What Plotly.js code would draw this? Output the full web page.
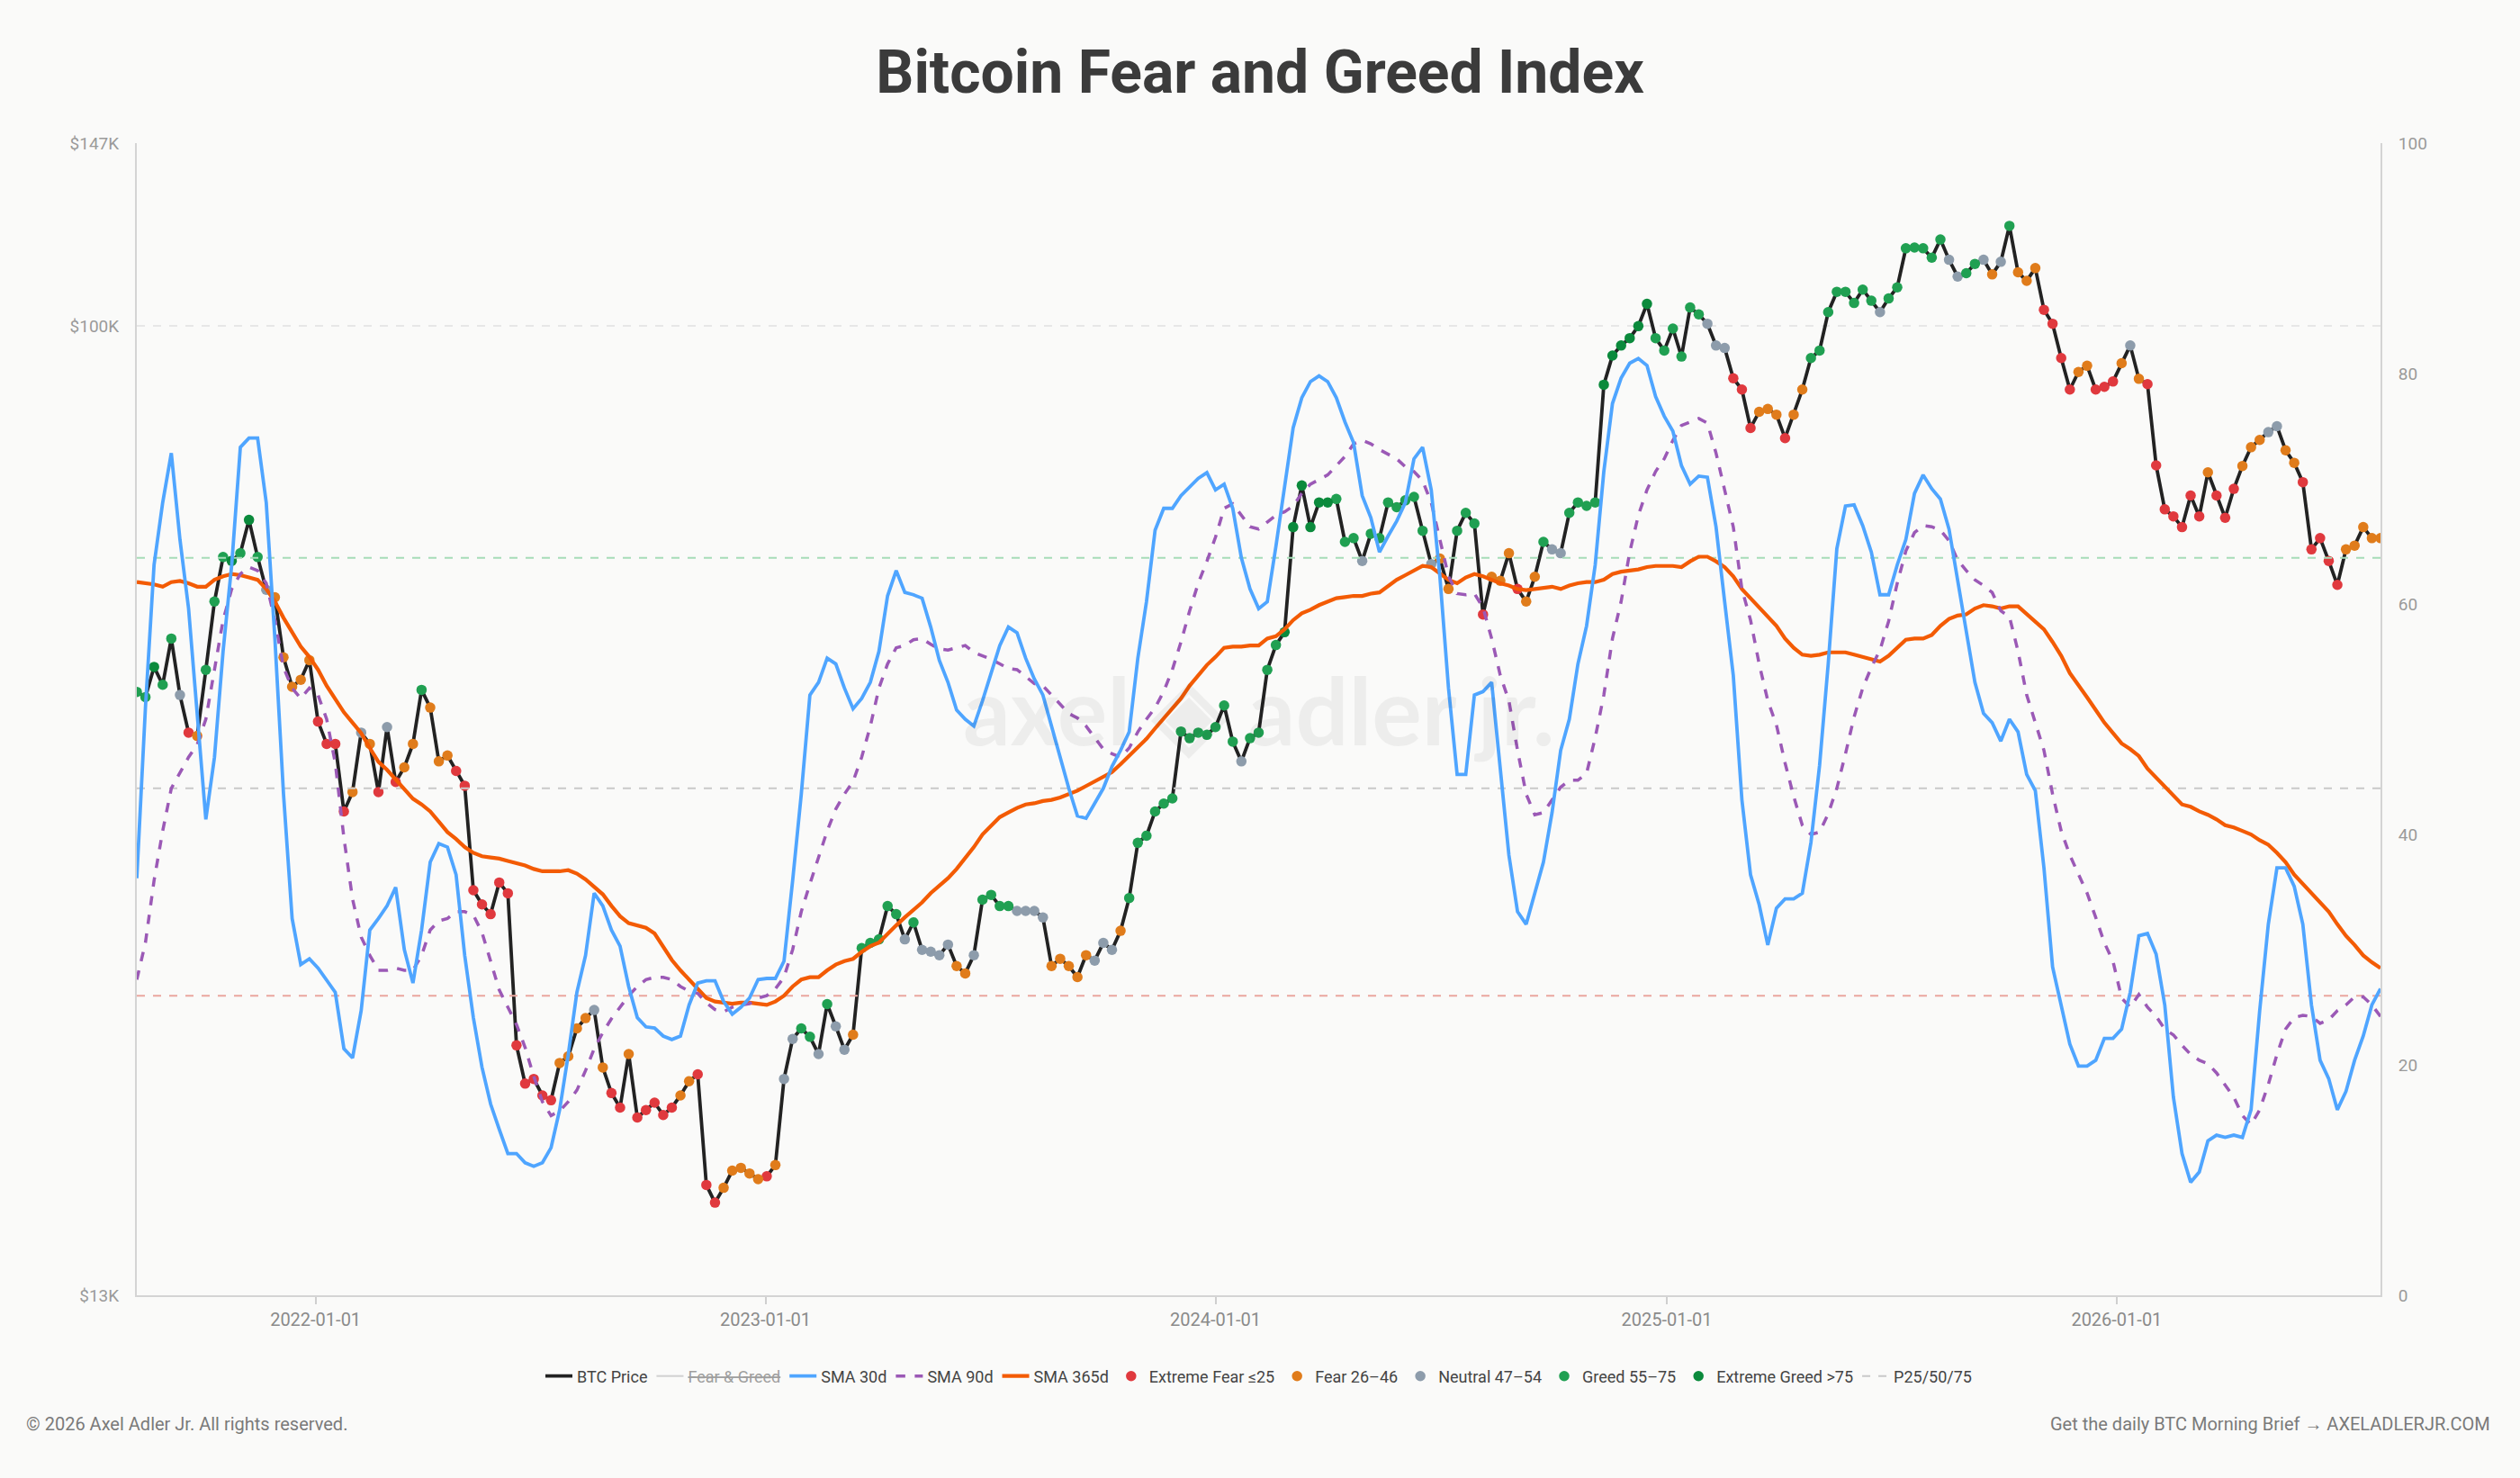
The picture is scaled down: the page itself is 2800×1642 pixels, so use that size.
<!DOCTYPE html>
<html><head><meta charset="utf-8">
<script src="https://cdn.plot.ly/plotly-3.0.1.min.js"></script>
<style>html,body{margin:0;padding:0;background:#fafaf9;} #chart{width:2800px;height:1642px;}</style>
</head><body><div id="chart"></div>
<script>
// ---- DATA (weekly samples starting 2021-08-09) ----
const startDate = '2021-08-09';
const stepDays = 7;

const btcPrice = [
 46300, 45800, 48800, 47000, 51800, 46000, 42500, 42200, 48500, 56000,
 61500, 61000, 62000, 66500, 61500, 57400, 56500, 49800, 46800, 47500,
 49500, 43500, 41500, 41500, 36000, 37500, 42500, 41500, 37500, 43000,
 38300, 39500, 41500, 46500, 44800, 40000, 40500, 39200, 38000, 30500,
 29600, 29000, 31000, 30300, 22000, 20300, 20500, 19800, 19600, 21200,
 21500, 22800, 23300, 23700, 21000, 19900, 19300, 21600, 18900, 19200,
 19500, 19000, 19300, 19800, 20400, 20700, 16400, 15800, 16300, 16900,
 17000, 16800, 16600, 16700, 17100, 20500, 22300, 22800, 22400, 21600,
 24000, 22900, 21800, 22500, 27000, 27300, 27500, 29500, 29000, 27500,
 28500, 26900, 26800, 26600, 27200, 26000, 25600, 26600, 29900, 30200,
 29500, 29500, 29200, 29200, 29200, 28800, 26000, 26400, 26000, 25400,
 26600, 26300, 27300, 26900, 28000, 30000, 33700, 34200, 36000, 36600,
 37000, 42600, 42000, 42500, 42300, 43000, 45000, 41700, 40000, 42000,
 42500, 48500, 51100, 52500, 65500, 71500, 65500, 69000, 69000, 69500,
 63500, 64000, 61000, 64600, 64000, 69000, 68300, 69300, 69800, 65000,
 60600, 61300, 57500, 65000, 67500, 66000, 54500, 59000, 58500, 62000,
 57500, 56000, 59000, 63500, 62500, 62000, 67500, 69000, 68500, 69000,
 88400, 94000, 96000, 97500, 100000, 104800, 97500, 95000, 99500, 93800,
 104000, 102500, 100500, 96000, 95500, 89600, 87500, 80700, 83500, 84000,
 83000, 79000, 83000, 87500, 93500, 95000, 103000, 107500, 107500, 105000,
 108000, 105500, 103000, 106000, 108500, 117800, 118000, 117800, 115500, 120000,
 115000, 111000, 111800, 114000, 115000, 111500, 114500, 123500, 112000, 110000,
 113000, 103500, 100500, 93500, 87500, 90800, 92000, 87500, 88000, 89000,
 92500, 96000, 89500, 88500, 74600, 68000, 67000, 65500, 70000, 67000,
 73500, 70000, 66800, 71000, 74500, 77500, 78700, 80000, 81000, 77000,
 75000, 72000, 62500, 64000, 61000, 58000, 62500, 63000, 65500, 64000,
 64000
];

const fearGreed = [
 72, 74, 76, 70, 74, 50, 24, 30, 60, 72,
 73, 78, 72, 77, 72, 52, 40, 32, 28, 35,
 40, 20, 15, 22, 12, 28, 48, 35, 22, 50,
 24, 30, 40, 58, 45, 30, 30, 24, 22, 12,
 14, 13, 15, 20, 8, 10, 12, 15, 18, 30,
 28, 35, 40, 47, 30, 24, 22, 28, 22, 20,
 24, 23, 22, 30, 38, 25, 22, 22, 27, 28,
 27, 28, 28, 25, 30, 50, 52, 58, 56, 52,
 60, 50, 48, 40, 58, 58, 60, 64, 60, 50,
 56, 50, 50, 50, 48, 45, 40, 50, 64, 60,
 58, 56, 52, 50, 52, 50, 40, 40, 42, 38,
 45, 48, 50, 50, 46, 56, 70, 70, 72, 68,
 72, 74, 70, 72, 73, 70, 68, 60, 50, 60,
 62, 72, 74, 78, 80, 82, 76, 78, 76, 74,
 70, 66, 50, 58, 62, 70, 68, 72, 70, 62,
 48, 42, 30, 60, 65, 55, 20, 30, 40, 42,
 24, 35, 42, 56, 50, 48, 60, 68, 72, 70,
 76, 82, 80, 76, 78, 82, 74, 70, 75, 70,
 72, 70, 52, 50, 48, 20, 18, 20, 30, 35,
 30, 20, 35, 40, 62, 60, 70, 72, 70, 64,
 62, 62, 52, 60, 66, 70, 70, 68, 62, 68,
 52, 50, 58, 56, 50, 45, 52, 70, 40, 32,
 38, 24, 24, 12, 15, 26, 30, 18, 22, 24,
 30, 50, 32, 25, 14, 10, 12, 10, 12, 14,
 28, 16, 18, 22, 30, 35, 36, 48, 50, 40,
 38, 22, 15, 20, 16, 14, 27, 30, 32, 30,
 32
];

const sma30 = [
 36.2, 51, 63.4, 68.8, 73.1, 65.6, 59.6, 50, 41.3, 46.7,
 55.9, 63.4, 73.6, 74.4, 74.4, 68.8, 57, 43.5, 32.7, 28.7,
 29.2, 28.4, 27.3, 26.3, 21.4, 20.6, 24.7, 31.7, 32.7, 33.8,
 35.4, 30, 27.1, 31.7, 37.6, 39.2, 38.9, 36.5, 29.5, 24.1,
 19.8, 16.6, 14.4, 12.3, 12.3, 11.5, 11.2, 11.5, 12.8, 16.1,
 20.9, 26.3, 29.5, 34.9, 33.8, 31.7, 30.3, 26.8, 24.1, 23.3,
 23.2, 22.5, 22.2, 22.5, 25.2, 27.1, 27.3, 27.3, 25.5, 24.4,
 25, 25.8, 27.4, 27.5, 27.5, 29, 36, 43.5, 52.1, 53.2,
 55.3, 54.8, 52.7, 50.9, 51.8, 53.2, 55.9, 60.7, 62.9, 61,
 60.8, 60.5, 58, 55.1, 53.2, 50.8, 50, 49.4, 51.6, 54,
 56.4, 58, 57.5, 55.3, 53.5, 52.1, 49.4, 46.7, 44, 41.6,
 41.4, 42.7, 44, 45.9, 47.3, 48.9, 55.3, 60.2, 66.4, 68.3,
 68.3, 69.4, 70.1, 70.9, 71.4, 69.9, 70.4, 68.3, 64, 61.3,
 59.6, 60.2, 65, 70.4, 75.3, 77.9, 79.3, 79.8, 79.3, 77.9,
 75.8, 74, 69.4, 67.5, 64.5, 65.9, 67.2, 68.8, 72.6, 73.6,
 69.9, 62.4, 52.7, 45.2, 45.2, 52.1, 52.4, 53.2, 45.7, 38.2,
 33.3, 32.2, 34.9, 37.6, 41.9, 47.3, 50, 54.8, 58.1, 63.4,
 71.5, 77.4, 79.6, 80.9, 81.3, 80.7, 78, 76.3, 75, 72,
 70.4, 71.1, 71, 66.7, 60.2, 53.8, 43, 36.5, 33.9, 30.4,
 33.6, 34.4, 34.4, 34.9, 39.3, 46, 54.8, 64.8, 68.5, 68.6,
 66.8, 64.5, 60.8, 60.8, 63.4, 65.6, 69.6, 71.2, 70, 69.1,
 66.5, 62, 57.5, 53.2, 50.5, 49.7, 48.1, 50, 48.9, 45.2,
 43.8, 37.1, 28.5, 25.2, 21.8, 19.9, 19.9, 20.4, 22.3, 22.3,
 23.1, 26.3, 31.2, 31.4, 29.6, 25.2, 17.2, 12.3, 9.8, 10.7,
 13.4, 13.9, 13.7, 13.9, 13.7, 16.1, 24.7, 32.2, 37.1, 37.1,
 35.5, 32.2, 25.2, 20.4, 18.8, 16.1, 17.7, 20.4, 22.5, 25.2,
 26.6
];

const sma90 = [
 27.4, 30.6, 36, 40.3, 44, 45.4, 46.7, 47.8, 50, 54.3,
 58.6, 61.3, 62.6, 63.2, 62.9, 61.8, 58.6, 54.5, 52.7, 51.8,
 52.7, 52.1, 50, 46.2, 39.7, 34.4, 31.1, 29.5, 28.2, 28.2,
 28.4, 28.2, 28.2, 29.5, 31.7, 32.5, 32.7, 33.3, 33.3, 33,
 31.5, 29, 26.5, 25, 23.5, 21.5, 19, 16.8, 15.6, 16,
 16.8, 17.8, 19.5, 21.4, 22.8, 24, 25, 26, 26.8, 27.4,
 27.6, 27.6, 27.4, 26.8, 26.4, 26.2, 25.4, 24.8, 24.6, 25,
 25.2, 25.3, 25.8, 26, 26.6, 27.6, 30, 33.3, 35.7, 38.1,
 40.3, 42.2, 43.5, 44.6, 46.7, 49.4, 52.7, 54.8, 56.2, 56.4,
 56.9, 57, 56.5, 56.1, 56, 56.2, 56.4, 55.8, 55.5, 55.2,
 54.8, 54.4, 54.3, 53.7, 53.1, 52.9, 52.1, 51.3, 50.5, 50.1,
 49.4, 48.4, 47.4, 47, 46.7, 47.5, 48.9, 50, 51, 52.4,
 54.3, 56.7, 59.4, 61.8, 63.7, 65.8, 68.3, 68.7, 67.7, 66.7,
 66.5, 67.1, 67.7, 68, 68.5, 69.6, 70.4, 70.8, 71.2, 72,
 72.8, 73.9, 74.2, 73.9, 73.4, 73, 72.6, 71.9, 71.5, 70.7,
 68.8, 65.6, 62.4, 60.9, 60.8, 60.9, 59.7, 57, 53.8, 51.6,
 47.3, 43.5, 41.7, 41.9, 43, 44.1, 44.7, 44.7, 45.3, 48.4,
 52.1, 57, 60.2, 64.5, 67.7, 69.9, 71.5, 72.6, 74.2, 75.5,
 75.8, 76.1, 75.7, 73.1, 69.9, 66.7, 61.3, 58.6, 54.8, 51.6,
 49.5, 46.2, 43.3, 40.8, 40, 40.2, 41.8, 44, 47, 50.2,
 52.7, 54.5, 56, 58.5, 61.8, 64.6, 66.2, 66.8, 66.7, 66.4,
 65.5, 63.8, 62.9, 62.1, 61.6, 61, 59.4, 58.9, 55.9, 52.1,
 49.7, 47.3, 43.5, 40.3, 38.2, 36.5, 34.9, 32.8, 30.6, 29,
 25.8, 25, 26.1, 25, 24.2, 23.1, 22.6, 21.7, 20.9, 20.4,
 20.1, 19.3, 18.3, 17.2, 15.6, 14.8, 16.1, 18.3, 20.9, 23.1,
 24.1, 24.3, 24.2, 23.6, 23.9, 24.7, 25.2, 25.9, 25.9, 25.2,
 24.2
];

const sma365 = [
 61.9, 61.8, 61.7, 61.5, 61.9, 62, 61.8, 61.5, 61.5, 62.1,
 62.4, 62.6, 62.5, 62.3, 62.1, 61.3, 60.2, 58.8, 57.5, 56.3,
 55.4, 54.3, 52.9, 51.7, 50.6, 49.7, 48.8, 47.5, 46.3, 45.6,
 44.8, 43.9, 43.1, 42.6, 42, 41.1, 40.2, 39.6, 38.9, 38.4,
 38.1, 38, 37.9, 37.7, 37.5, 37.3, 37, 36.8, 36.8, 36.8,
 36.9, 36.6, 36.1, 35.5, 34.8, 33.8, 32.9, 32.3, 32.1, 31.9,
 31.4, 30.3, 29.1, 28.2, 27.4, 26.6, 25.8, 25.5, 25.4, 25.3,
 25.4, 25.4, 25.3, 25.2, 25.5, 26, 26.8, 27.4, 27.6, 27.6,
 28.2, 28.7, 29, 29.2, 29.8, 30.3, 30.6, 31.4, 32.1, 32.8,
 33.4, 34.1, 34.9, 35.5, 36.2, 37, 37.9, 38.9, 40, 40.8,
 41.5, 41.9, 42.3, 42.6, 42.7, 42.9, 43, 43.2, 43.5, 43.8,
 44.2, 44.6, 45, 45.4, 46.1, 46.8, 47.5, 48.3, 49.2, 50.1,
 50.9, 51.8, 52.9, 53.8, 54.7, 55.4, 56.2, 56.3, 56.3, 56.4,
 56.4, 57, 57.2, 57.8, 58.6, 59.2, 59.5, 59.9, 60.2, 60.5,
 60.6, 60.7, 60.7, 60.9, 61, 61.6, 62.1, 62.5, 62.9, 63.3,
 63.2, 62.6, 62.1, 61.8, 62.3, 62.6, 62.4, 62.1, 61.8, 61.6,
 61.3, 61.2, 61.3, 61.4, 61.5, 61.3, 61.6, 61.8, 61.9, 61.9,
 62.1, 62.6, 62.8, 62.9, 63, 63.2, 63.3, 63.3, 63.3, 63.2,
 63.7, 64.1, 64.1, 63.7, 63.2, 62.4, 61.3, 60.5, 59.7, 58.9,
 58.1, 57, 56.2, 55.6, 55.5, 55.6, 55.8, 55.8, 55.8, 55.6,
 55.4, 55.2, 55, 55.5, 56.2, 56.9, 57, 57, 57.3, 58.1,
 58.7, 59, 59.1, 59.6, 59.9, 59.8, 59.6, 59.8, 59.8, 59.1,
 58.5, 57.8, 56.7, 55.5, 54, 53, 51.9, 50.8, 49.7, 48.8,
 47.9, 47.4, 46.8, 45.7, 44.9, 44.1, 43.3, 42.6, 42.4, 42,
 41.7, 41.3, 40.8, 40.6, 40.3, 40, 39.5, 39.1, 38.4, 37.6,
 36.5, 35.7, 34.9, 34.1, 33.3, 32.2, 31.2, 30.4, 29.5, 28.9,
 28.4
];

const percentileNames = ['P25', 'P50', 'P75'];
const percentileValues = [26, 44, 64];

const xTickDates = ['2022-01-01', '2023-01-01', '2024-01-01', '2025-01-01', '2026-01-01'];
const priceTickVals = [13000, 100000, 147000];
const priceTickText = ['$13K', '$100K', '$147K'];
const indexTickVals = [0, 20, 40, 60, 80, 100];

const zoneNames = ['Extreme Fear ≤25', 'Fear 26–46', 'Neutral 47–54', 'Greed 55–75', 'Extreme Greed >75'];
const zoneMins  = [0, 26, 47, 55, 76];
const zoneMaxs  = [25, 46, 54, 75, 100];

// ---- STYLES ----
const zoneColors = ['#e0393e', '#e07c1b', '#8d9cab', '#20a052', '#0b8a3c'];
const pctColors = ['#eaa69f', '#c9c9c9', '#a6dcb8'];

// ---- BUILD ----
function buildDates(start, step, n) {
  const out = [];
  const t0 = Date.parse(start + 'T00:00:00Z');
  for (let i = 0; i < n; i++) {
    out.push(new Date(t0 + i * step * 86400000).toISOString().slice(0, 10));
  }
  return out;
}
const dates = buildDates(startDate, stepDays, btcPrice.length);
const xFirst = dates[0], xLast = dates[dates.length - 1];

const traces = [];

[1, 0, 2].forEach((i, j) => {
  traces.push({
    x: [xFirst, xLast], y: [percentileValues[i], percentileValues[i]],
    yaxis: 'y2', type: 'scatter', mode: 'lines',
    name: 'P25/50/75', showlegend: j === 0, legendrank: 11,
    line: {color: pctColors[i], width: 2, dash: 'dash'},
    hoverinfo: 'skip'
  });
});

traces.push({x: dates, y: sma365, yaxis: 'y2', type: 'scatter', mode: 'lines', name: 'SMA 365d', legendrank: 5,
  line: {color: '#f35b04', width: 4.2}});
traces.push({x: dates, y: sma90, yaxis: 'y2', type: 'scatter', mode: 'lines', name: 'SMA 90d', legendrank: 4,
  line: {color: '#9b59b6', width: 3.5, dash: 'dash'}});
traces.push({x: dates, y: sma30, yaxis: 'y2', type: 'scatter', mode: 'lines', name: 'SMA 30d', legendrank: 3,
  line: {color: '#4fa5ff', width: 3.8}});
traces.push({x: dates, y: fearGreed, yaxis: 'y2', type: 'scatter', mode: 'lines', name: '<s>Fear & Greed</s>', legendrank: 2,
  visible: 'legendonly', line: {color: '#aaaaaa', width: 2}});
traces.push({x: dates, y: btcPrice, yaxis: 'y', type: 'scatter', mode: 'lines', name: 'BTC Price', legendrank: 1,
  line: {color: '#222222', width: 3.8}});

zoneNames.forEach((nm, z) => {
  const xs = [], ys = [];
  for (let i = 0; i < btcPrice.length; i++) {
    if (fearGreed[i] >= zoneMins[z] && fearGreed[i] <= zoneMaxs[z]) { xs.push(dates[i]); ys.push(btcPrice[i]); }
  }
  traces.push({x: xs, y: ys, yaxis: 'y', type: 'scatter', mode: 'markers', name: nm, legendrank: 6 + z,
    marker: {color: zoneColors[z], size: 11.5, line: {width: 0}}});
});

const W = 2800, H = 1642;
const layout = {
  width: W, height: H,
  paper_bgcolor: '#fafaf9', plot_bgcolor: '#fafaf9',
  margin: {l: 152, r: 155, t: 159, b: 203, pad: 0},
  font: {family: 'Roboto, "Noto Sans", sans-serif', color: '#444444'},
  title: {text: 'Bitcoin Fear and Greed Index', x: 0.5, xanchor: 'center', xref: 'container',
    y: 1 - 80 / H, yanchor: 'middle', yref: 'container',
    font: {size: 66, color: '#3b3b3b', family: 'Roboto, sans-serif', weight: 700}},
  showlegend: true,
  legend: {orientation: 'h', x: 0.5, xanchor: 'center', y: -90 / 1280, yanchor: 'middle',
    font: {size: 18, color: '#444444'}, bgcolor: 'rgba(0,0,0,0)', itemwidth: 30, itemclick: false},
  xaxis: {type: 'date', range: [xFirst, xLast], tickvals: xTickDates, ticktext: xTickDates,
    ticks: 'outside', ticklen: 8, tickwidth: 2, tickcolor: '#cfcfcf',
    showgrid: false, zeroline: false, showline: true, linecolor: '#d4d4d4', linewidth: 2,
    tickfont: {size: 20, color: '#8a8a8a'}},
  yaxis: {type: 'log', range: [Math.log10(priceTickVals[0]), Math.log10(priceTickVals[2])],
    tickvals: priceTickVals, ticktext: priceTickText, ticks: '', ticklabelstandoff: 14,
    showgrid: true, gridcolor: '#e7e7e7', gridwidth: 2, griddash: 'dash',
    zeroline: false, showline: true, linecolor: '#d4d4d4', linewidth: 2,
    tickfont: {size: 19, color: '#9a9a9a'}},
  yaxis2: {overlaying: 'y', side: 'right', range: [0, 100], tickvals: indexTickVals, ticks: '', ticklabelstandoff: 14,
    showgrid: false, zeroline: false, showline: true, linecolor: '#d4d4d4', linewidth: 2,
    tickfont: {size: 19, color: '#9a9a9a'}},
  annotations: [
    {text: 'axel ◈ adler jr.', xref: 'paper', yref: 'paper', x: 0.5, y: (1439 - 787) / 1280,
      xanchor: 'center', yanchor: 'middle', showarrow: false,
      font: {size: 104, color: 'rgba(0,0,0,0.05)', family: 'Lato, Roboto, sans-serif', weight: 700}},
    {text: '© 2026 Axel Adler Jr. All rights reserved.', xref: 'paper', yref: 'paper',
      x: (27 - 152) / (W - 152 - 155), y: (1439 - 1582) / 1280, xanchor: 'left', yanchor: 'middle',
      showarrow: false, font: {size: 20, color: '#7a7a7a'}},
    {text: 'Get the daily BTC Morning Brief → AXELADLERJR.COM', xref: 'paper', yref: 'paper',
      x: (2769 - 152) / (W - 152 - 155), y: (1439 - 1582) / 1280, xanchor: 'right', yanchor: 'middle',
      showarrow: false, font: {size: 20, color: '#7a7a7a'}}
  ]
};

Plotly.newPlot('chart', traces, layout, {displayModeBar: false, staticPlot: true});
</script>
</body></html>
